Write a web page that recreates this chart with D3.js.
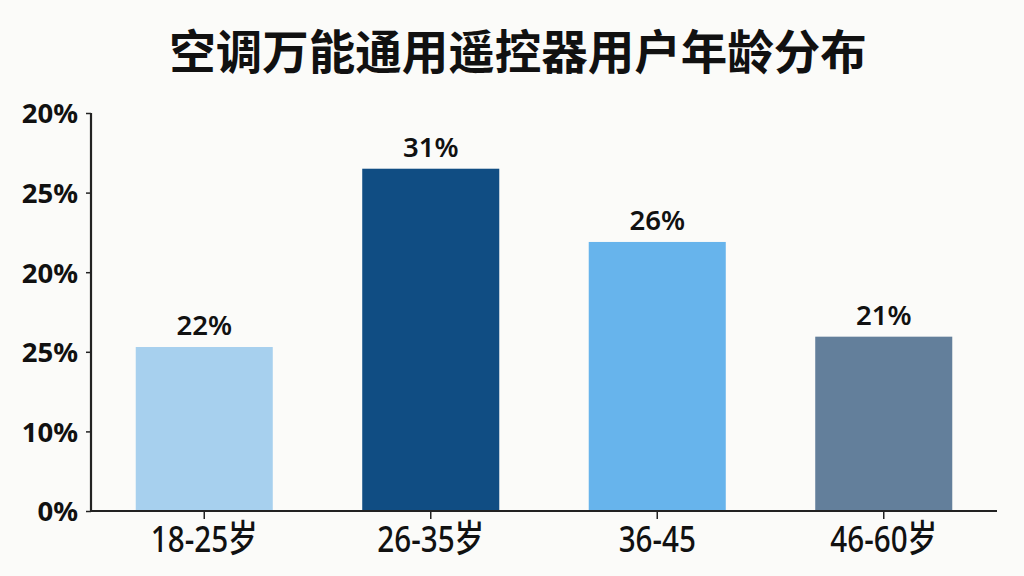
<!DOCTYPE html>
<html>
<head>
<meta charset="utf-8">
<script src="https://cdn.jsdelivr.net/npm/d3@7"></script>
<style>
  html,body{margin:0;padding:0;background:#fbfbf9;}
  svg{display:block;}
  .tick text{font-family:"Noto Sans","Noto Sans CJK SC",sans-serif;}
</style>
</head>
<body>
<div id="chart"></div>
<script>
// data (axis labels kept as printed)
const title='空调万能通用遥控器用户年龄分布';
const ageGroups=['18-25岁','26-35岁','36-45','46-60岁'];
const barHeights=[10.3,21.5,16.9,10.95];
const valueLabels=['22%','31%','26%','21%'];
const tickValues=[0,5,10,15,20,25];
const tickLabels=['0%','10%','25%','20%','25%','20%'];
const barColors=['#a7d0ee','#104d83','#67b4ec','#637f9b'];

(function draw(){
  const W=1024,H=576,m={t:113,r:27,b:65,l:91};
  const w=W-m.l-m.r,h=H-m.t-m.b;
  const svg=d3.select('#chart').append('svg').attr('width',W).attr('height',H);
  svg.append('rect').attr('width',W).attr('height',H).attr('fill','#fbfbf9');
  svg.append('text').attr('x',518).attr('y',69).attr('text-anchor','middle')
    .attr('font-family','"Noto Sans CJK SC",sans-serif').attr('font-weight',700).attr('font-size',46.5)
    .attr('fill','#111').text(title);
  const g=svg.append('g').attr('transform',`translate(${m.l},${m.t})`);
  const x=d3.scaleBand().domain(ageGroups).range([0,w]).paddingInner(0.395).paddingOuter(0.1975);
  const y=d3.scaleLinear().domain([0,25]).range([h,0]);
  // bars
  g.selectAll('.bar').data(ageGroups).join('rect').attr('class','bar')
    .attr('x',d=>x(d)).attr('width',x.bandwidth())
    .attr('y',(d,i)=>y(barHeights[i])).attr('height',(d,i)=>h-y(barHeights[i]))
    .attr('fill',(d,i)=>barColors[i]);
  // value labels
  g.selectAll('.val').data(ageGroups).join('text').attr('class','val')
    .attr('x',d=>x(d)+x.bandwidth()/2).attr('y',(d,i)=>y(barHeights[i])-12)
    .attr('text-anchor','middle').attr('font-family','"Noto Sans","Noto Sans CJK SC",sans-serif')
    .attr('font-weight',600).attr('font-size',27.5).attr('fill','#111').text((d,i)=>valueLabels[i]);
  // y axis
  const ya=g.append('g').call(d3.axisLeft(y).tickValues(tickValues).tickSize(5).tickPadding(8).tickFormat((d,i)=>tickLabels[i]));
  ya.select('.domain').attr('stroke','#222').attr('stroke-width',2.2).attr('d',`M0,0V${h}`);
  ya.selectAll('.tick line').attr('stroke','#222').attr('stroke-width',1.5);
  ya.selectAll('.tick text').attr('font-size',27.5).attr('font-weight',700).attr('fill','#111').attr('dy','0.36em');
  // x axis
  const xa=g.append('g').attr('transform',`translate(0,${h})`).call(d3.axisBottom(x).tickSize(8).tickPadding(12));
  xa.select('.domain').attr('stroke','#222').attr('stroke-width',2.2).attr('d',`M0,0H${w}`);
  xa.selectAll('.tick line').attr('stroke','#222').attr('stroke-width',1.5);
  // narrow, tall labels like the reference
  xa.selectAll('.tick text').attr('font-family','"Noto Sans CJK SC",sans-serif')
    .attr('font-size',37).attr('font-weight',500).attr('fill','#111').attr('dy','0.58em')
    .attr('transform','scale(0.8,1)');
})();
</script>
</body>
</html>
